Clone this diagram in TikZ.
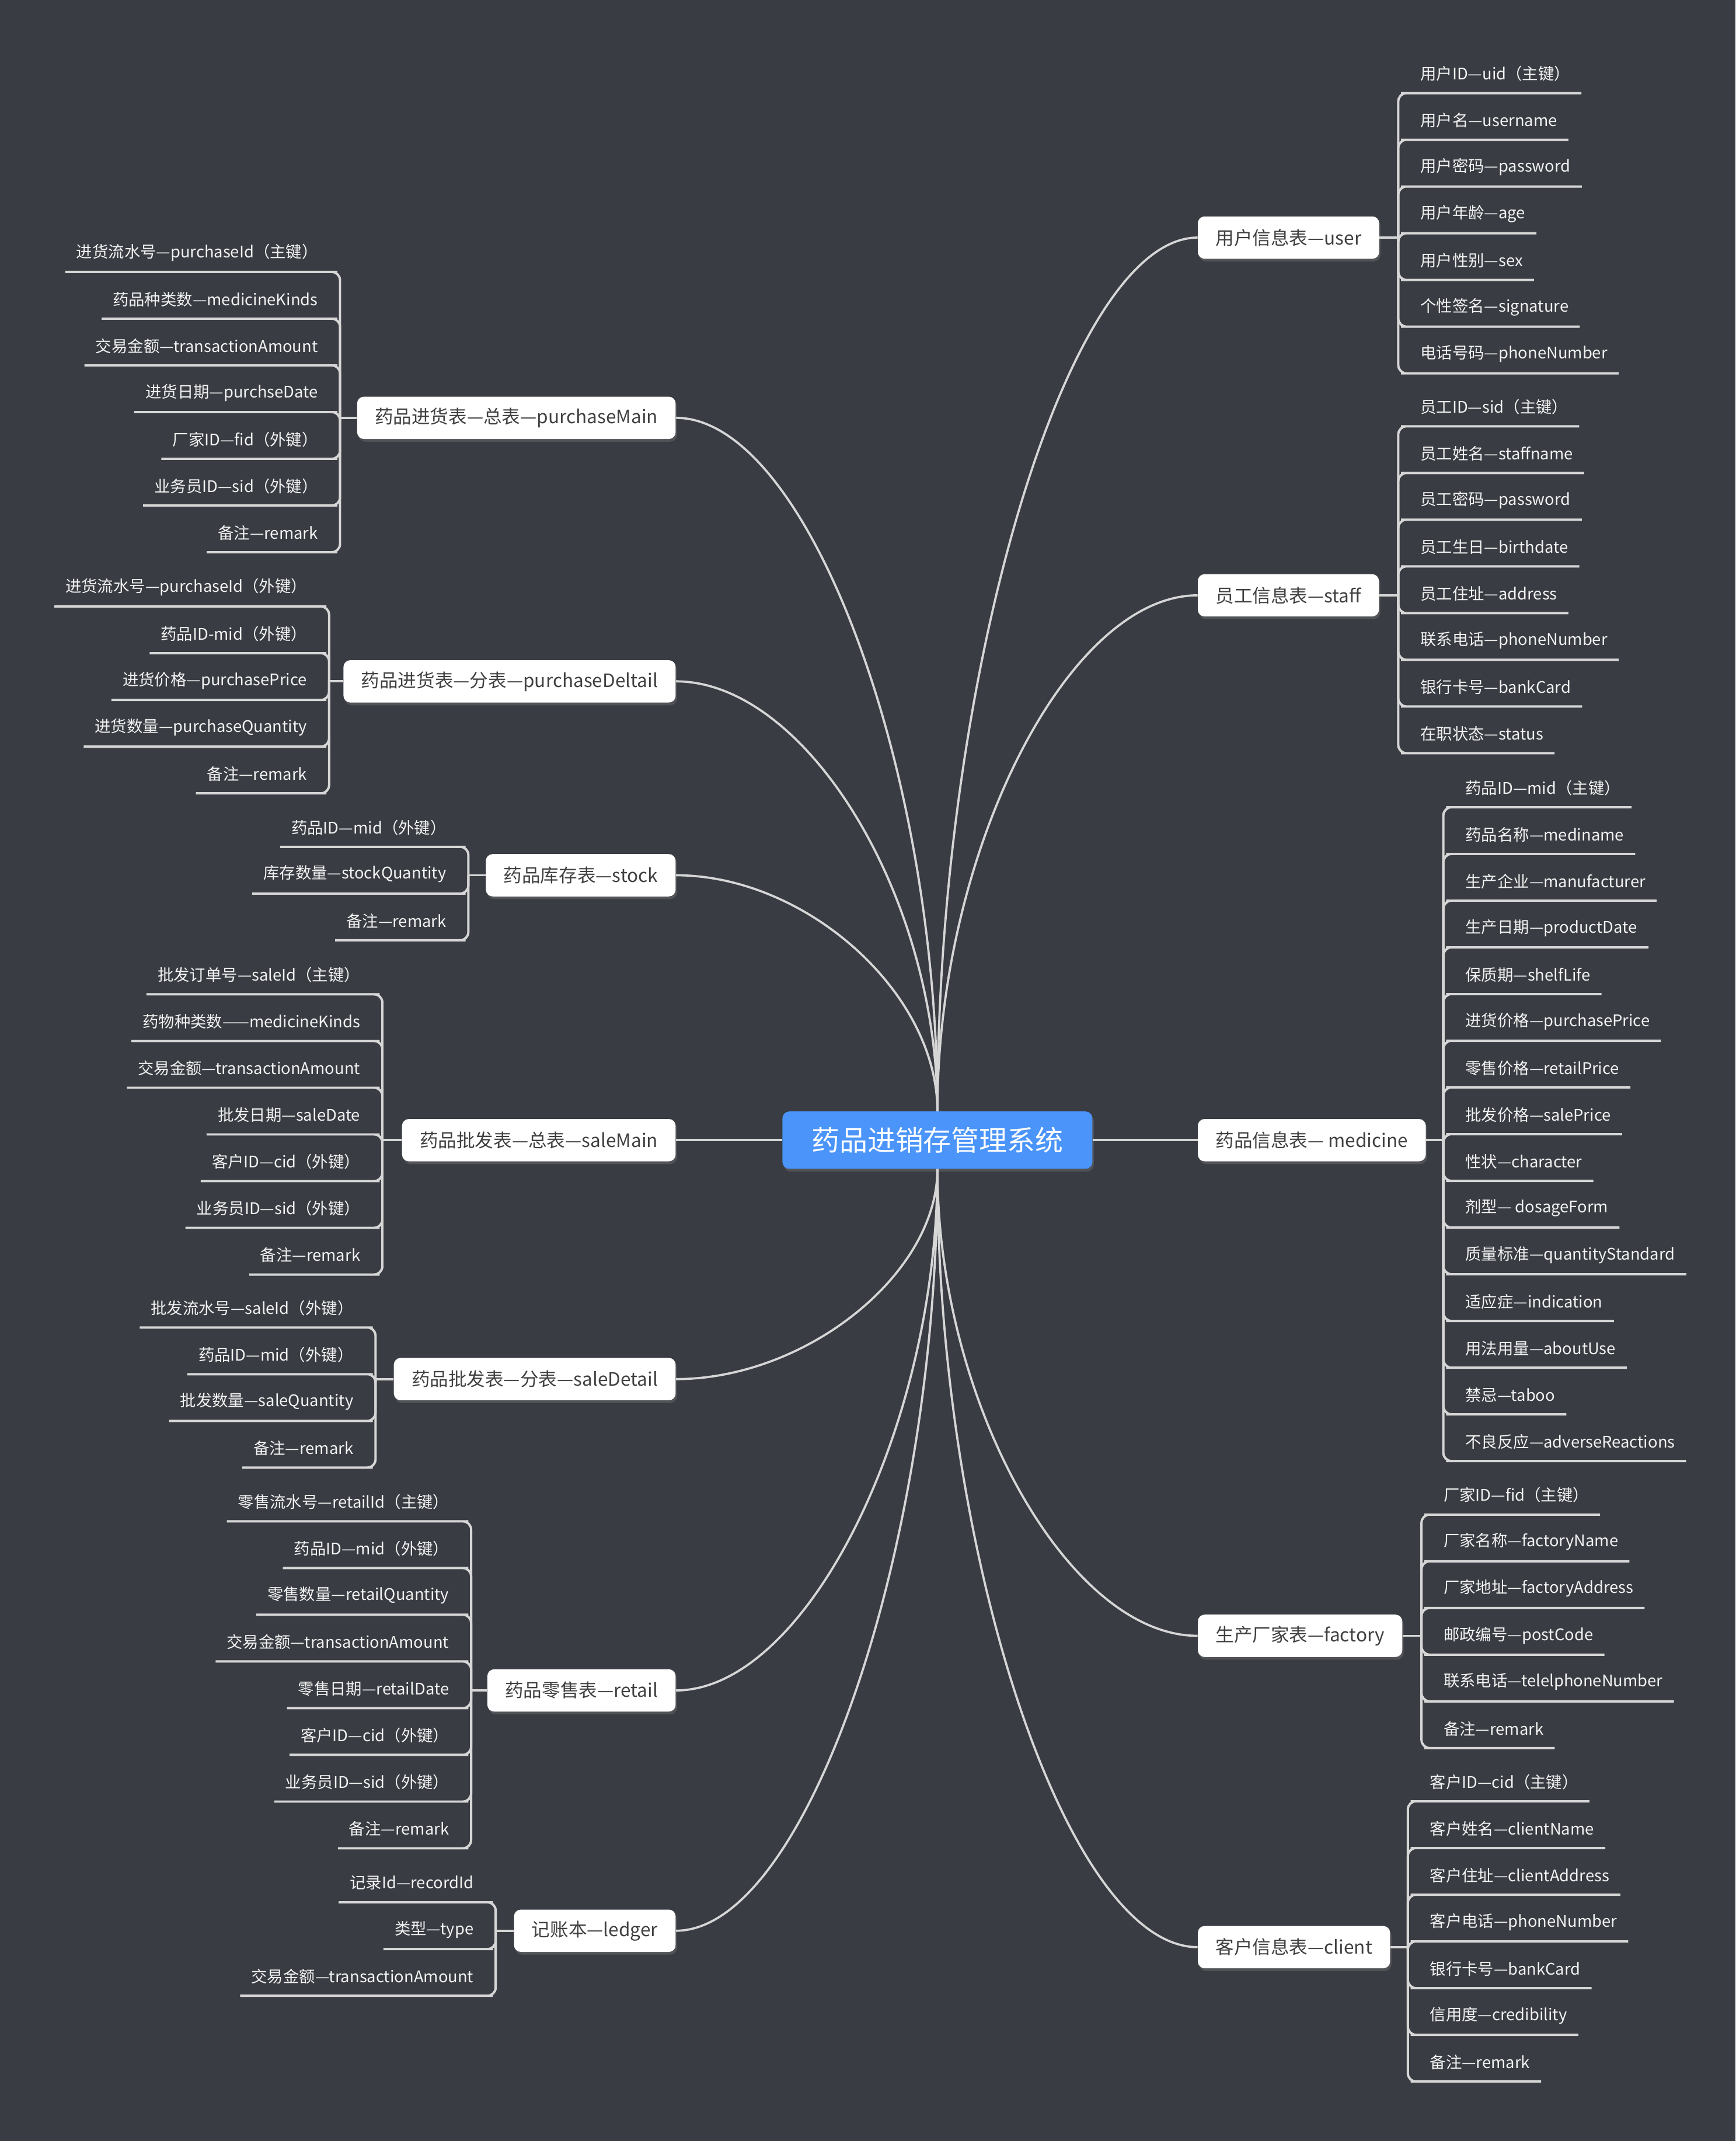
\documentclass[tikz,border=0pt]{standalone}
\usepackage{fontspec}
\setmainfont{Noto Sans CJK SC}
\usepackage{tikz}
\usetikzlibrary{shadows}
\definecolor{mapbg}{RGB}{57,60,66}
\definecolor{mapline}{RGB}{214,214,214}
\definecolor{leaftext}{RGB}{242,242,242}
\definecolor{topictext}{RGB}{64,64,64}
\definecolor{rootblue}{RGB}{74,148,250}
\newcommand{\leaffont}{\fontsize{11.7}{14}\selectfont}
\newcommand{\topicfont}{\fontsize{13.5}{16}\selectfont}
\newcommand{\rootfont}{\fontsize{20.5}{24}\selectfont}

\begin{document}
\begin{tikzpicture}[
    x=1pt, y=-1pt,
    root/.style={rectangle, rounded corners=5pt, fill=rootblue, text=white,
                 minimum width=227pt, minimum height=42pt, font=\rootfont,
                 drop shadow={opacity=0.35, shadow xshift=1pt, shadow yshift=-2pt}},
    topic/.style={rectangle, rounded corners=5pt, fill=white, text=topictext,
                  minimum height=31pt, inner xsep=13pt, font=\topicfont,
                  drop shadow={opacity=0.35, shadow xshift=1pt, shadow yshift=-2pt}},
    leaf/.style={inner xsep=8pt, inner ysep=0pt, minimum height=28pt,
                 text=leaftext, font=\leaffont},
    leafR/.style={leaf, anchor=west},
    leafL/.style={leaf, anchor=east},
    branch/.style={draw=mapline, line width=1.7pt, rounded corners=6pt},
    curve/.style={draw=mapline, line width=1.6pt}
]
\fill[mapbg] (0,0) rectangle (1271,1568);

% centre
\node[root] (root) at (686.5,835) {药品进销存管理系统};

% right topics
\node[topic, anchor=west] (user)     at (877,174)  {用户信息表—user};
\node[topic, anchor=west] (staff)    at (877,436)  {员工信息表—staff};
\node[topic, anchor=west] (medicine) at (877,835)  {药品信息表— medicine};
\node[topic, anchor=west] (factory)  at (877,1198) {生产厂家表—factory};
\node[topic, anchor=west] (client)   at (877,1426) {客户信息表—client};

% left topics
\node[topic, anchor=east] (pmain)   at (495,306)  {药品进货表—总表—purchaseMain};
\node[topic, anchor=east] (pdetail) at (495,499)  {药品进货表—分表—purchaseDeltail};
\node[topic, anchor=east] (stock)   at (495,641)  {药品库存表—stock};
\node[topic, anchor=east] (smain)   at (495,835)  {药品批发表—总表—saleMain};
\node[topic, anchor=east] (sdetail) at (495,1010) {药品批发表—分表—saleDetail};
\node[topic, anchor=east] (retail)  at (495,1238) {药品零售表—retail};
\node[topic, anchor=east] (ledger)  at (495,1414) {记账本—ledger};

% centre to topics
\draw[curve] (root.north) .. controls +(0,-320) and +(-95,0) .. (user.west);
\draw[curve] (root.north) .. controls +(0,-190) and +(-95,0) .. (staff.west);
\draw[curve] (root.east) -- (medicine.west);
\draw[curve] (root.south) .. controls +(0,170) and +(-95,0) .. (factory.west);
\draw[curve] (root.south) .. controls +(0,285) and +(-95,0) .. (client.west);
\draw[curve] (root.north) .. controls +(0,-255) and +(95,0) .. (pmain.east);
\draw[curve] (root.north) .. controls +(0,-158) and +(95,0) .. (pdetail.east);
\draw[curve] (root.north) .. controls +(0,-87) and +(95,0) .. (stock.east);
\draw[curve] (root.west) -- (smain.east);
\draw[curve] (root.south) .. controls +(0,77) and +(95,0) .. (sdetail.east);
\draw[curve] (root.south) .. controls +(0,190) and +(95,0) .. (retail.east);
\draw[curve] (root.south) .. controls +(0,278) and +(95,0) .. (ledger.east);

% spine points
\coordinate (us) at (1024,174);
\coordinate (ss) at (1024,436);
\coordinate (ms) at (1057,835);
\coordinate (fs) at (1041,1198);
\coordinate (cs) at (1031,1426);
\coordinate (pms) at (249,306);
\coordinate (pds) at (241,499);
\coordinate (sts) at (343,641);
\coordinate (sms) at (280,835);
\coordinate (sds) at (275,1010);
\coordinate (rs) at (345,1238);
\coordinate (ls) at (363,1414);

\draw[curve] (user.east) -- (us);
\draw[curve] (staff.east) -- (ss);
\draw[curve] (medicine.east) -- (ms);
\draw[curve] (factory.east) -- (fs);
\draw[curve] (client.east) -- (cs);
\draw[curve] (pmain.west) -- (pms);
\draw[curve] (pdetail.west) -- (pds);
\draw[curve] (stock.west) -- (sts);
\draw[curve] (smain.west) -- (sms);
\draw[curve] (sdetail.west) -- (sds);
\draw[curve] (retail.west) -- (rs);
\draw[curve] (ledger.west) -- (ls);

% user fields
\foreach \t [count=\i] in {用户ID—uid（主键）, 用户名—username, 用户密码—password,
    用户年龄—age, 用户性别—sex, 个性签名—signature, 电话号码—phoneNumber} {
  \node[leafR] (u\i) at (1032,{54+34.2*(\i-1)}) {\t};
  \draw[branch] (us) |- (u\i.south west) -- (u\i.south east);
}

% staff fields
\foreach \t [count=\i] in {员工ID—sid（主键）, 员工姓名—staffname, 员工密码—password,
    员工生日—birthdate, 员工住址—address, 联系电话—phoneNumber, 银行卡号—bankCard,
    在职状态—status} {
  \node[leafR] (s\i) at (1032,{298+34.2*(\i-1)}) {\t};
  \draw[branch] (ss) |- (s\i.south west) -- (s\i.south east);
}

% medicine fields
\foreach \t [count=\i] in {药品ID—mid（主键）, 药品名称—mediname, 生产企业—manufacturer,
    生产日期—productDate, 保质期—shelfLife, 进货价格—purchasePrice, 零售价格—retailPrice,
    批发价格—salePrice, 性状—character, 剂型— dosageForm, 质量标准—quantityStandard,
    适应症—indication, 用法用量—aboutUse, 禁忌—taboo, 不良反应—adverseReactions} {
  \node[leafR] (m\i) at (1065,{577+34.2*(\i-1)}) {\t};
  \draw[branch] (ms) |- (m\i.south west) -- (m\i.south east);
}

% factory fields
\foreach \t [count=\i] in {厂家ID—fid（主键）, 厂家名称—factoryName, 厂家地址—factoryAddress,
    邮政编号—postCode, 联系电话—telelphoneNumber, 备注—remark} {
  \node[leafR] (f\i) at (1049,{1095+34.2*(\i-1)}) {\t};
  \draw[branch] (fs) |- (f\i.south west) -- (f\i.south east);
}

% client fields
\foreach \t [count=\i] in {客户ID—cid（主键）, 客户姓名—clientName, 客户住址—clientAddress,
    客户电话—phoneNumber, 银行卡号—bankCard, 信用度—credibility, 备注—remark} {
  \node[leafR] (c\i) at (1039,{1305+34.2*(\i-1)}) {\t};
  \draw[branch] (cs) |- (c\i.south west) -- (c\i.south east);
}

% purchaseMain fields
\foreach \t [count=\i] in {进货流水号—purchaseId（主键）, 药品种类数—medicineKinds,
    交易金额—transactionAmount, 进货日期—purchseDate, 厂家ID—fid（外键）,
    业务员ID—sid（外键）, 备注—remark} {
  \node[leafL] (pm\i) at (241,{185+34.2*(\i-1)}) {\t};
  \draw[branch] (pms) |- (pm\i.south east) -- (pm\i.south west);
}

% purchaseDeltail fields
\foreach \t [count=\i] in {进货流水号—purchaseId（外键）, 药品ID-mid（外键）,
    进货价格—purchasePrice, 进货数量—purchaseQuantity, 备注—remark} {
  \node[leafL] (pd\i) at (233,{430+34.2*(\i-1)}) {\t};
  \draw[branch] (pds) |- (pd\i.south east) -- (pd\i.south west);
}

% stock fields
\foreach \t [count=\i] in {药品ID—mid（外键）, 库存数量—stockQuantity, 备注—remark} {
  \node[leafL] (st\i) at (335,{606+34.2*(\i-1)}) {\t};
  \draw[branch] (sts) |- (st\i.south east) -- (st\i.south west);
}

% saleMain fields
\foreach \t [count=\i] in {批发订单号—saleId（主键）, 药物种类数——medicineKinds,
    交易金额—transactionAmount, 批发日期—saleDate, 客户ID—cid（外键）,
    业务员ID—sid（外键）, 备注—remark} {
  \node[leafL] (sm\i) at (272,{714+34.2*(\i-1)}) {\t};
  \draw[branch] (sms) |- (sm\i.south east) -- (sm\i.south west);
}

% saleDetail fields
\foreach \t [count=\i] in {批发流水号—saleId（外键）, 药品ID—mid（外键）,
    批发数量—saleQuantity, 备注—remark} {
  \node[leafL] (sd\i) at (267,{958+34.2*(\i-1)}) {\t};
  \draw[branch] (sds) |- (sd\i.south east) -- (sd\i.south west);
}

% retail fields
\foreach \t [count=\i] in {零售流水号—retailId（主键）, 药品ID—mid（外键）,
    零售数量—retailQuantity, 交易金额—transactionAmount, 零售日期—retailDate,
    客户ID—cid（外键）, 业务员ID—sid（外键）, 备注—remark} {
  \node[leafL] (r\i) at (337,{1100+34.2*(\i-1)}) {\t};
  \draw[branch] (rs) |- (r\i.south east) -- (r\i.south west);
}

% ledger fields
\foreach \t [count=\i] in {记录Id—recordId, 类型—type, 交易金额—transactionAmount} {
  \node[leafL] (l\i) at (355,{1379+34.2*(\i-1)}) {\t};
  \draw[branch] (ls) |- (l\i.south east) -- (l\i.south west);
}
\end{tikzpicture}
\end{document}
